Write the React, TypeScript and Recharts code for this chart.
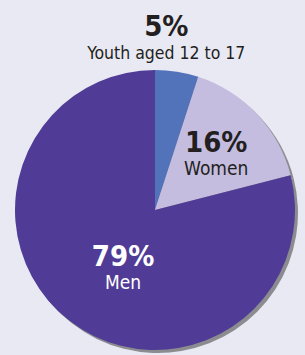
import React from 'react';
import { PieChart, Pie, Cell } from 'recharts';

const categories = ['Youth aged 12 to 17', 'Women', 'Men'];
const shares = [5, 16, 79];
const sliceColors = ['#5272b9', '#c5bde0', '#503c96'];

const data = categories.map((name, i) => ({ name, value: shares[i] }));

const FONT = '"Liberation Sans Narrow", "DejaVu Sans Condensed", "Liberation Sans", sans-serif';
const RAD = Math.PI / 180;

// per-slice label placement: radius factor plus nudges
const labelPlace = [
    { f: 1.2, dx: -15, dy: -6, color: '#231f20', nameSize: 17.5 },
    { f: 0.6, dx: 0, dy: 2, color: '#231f20', nameSize: 19 },
    { f: 0.5, dx: 11, dy: 3, color: '#ffffff', nameSize: 19 },
];

const renderLabel = (props: any) => {
    const { cx, cy, midAngle, outerRadius, index, name, value } = props;
    const p = labelPlace[index];
    const x = cx + outerRadius * p.f * Math.cos(-midAngle * RAD) + p.dx;
    const y = cy + outerRadius * p.f * Math.sin(-midAngle * RAD) + p.dy;
    return (
        <g key={`lbl-${index}`}>
            <text x={x} y={y - 2} textAnchor="middle" fill={p.color} fontFamily={FONT} fontWeight={700} fontSize={29}>
                {`${value}%`}
            </text>
            <text x={x} y={y + 21} textAnchor="middle" fill={p.color} fontFamily={FONT} fontSize={p.nameSize}>
                {name}
            </text>
        </g>
    );
};

export default function App() {
    return (
        <div style={{ position: 'absolute', left: 0, top: 0, width: 305, height: 355, background: '#e9e9f4' }}>
            <PieChart width={305} height={355} margin={{ top: 0, right: 0, bottom: 0, left: 0 }}>
                {/* drop shadow */}
                <Pie
                    data={data}
                    dataKey="value"
                    cx={158}
                    cy={213}
                    outerRadius={140}
                    startAngle={90}
                    endAngle={-270}
                    stroke="none"
                    fill="#8c8c90"
                    isAnimationActive={false}
                />
                <Pie
                    data={data}
                    dataKey="value"
                    nameKey="name"
                    cx={155}
                    cy={210}
                    outerRadius={140}
                    startAngle={90}
                    endAngle={-270}
                    stroke="none"
                    label={renderLabel}
                    labelLine={false}
                    isAnimationActive={false}
                >
                    {data.map((entry, index) => (
                        <Cell key={`cell-${index}`} fill={sliceColors[index]} />
                    ))}
                </Pie>
            </PieChart>
        </div>
    );
}
